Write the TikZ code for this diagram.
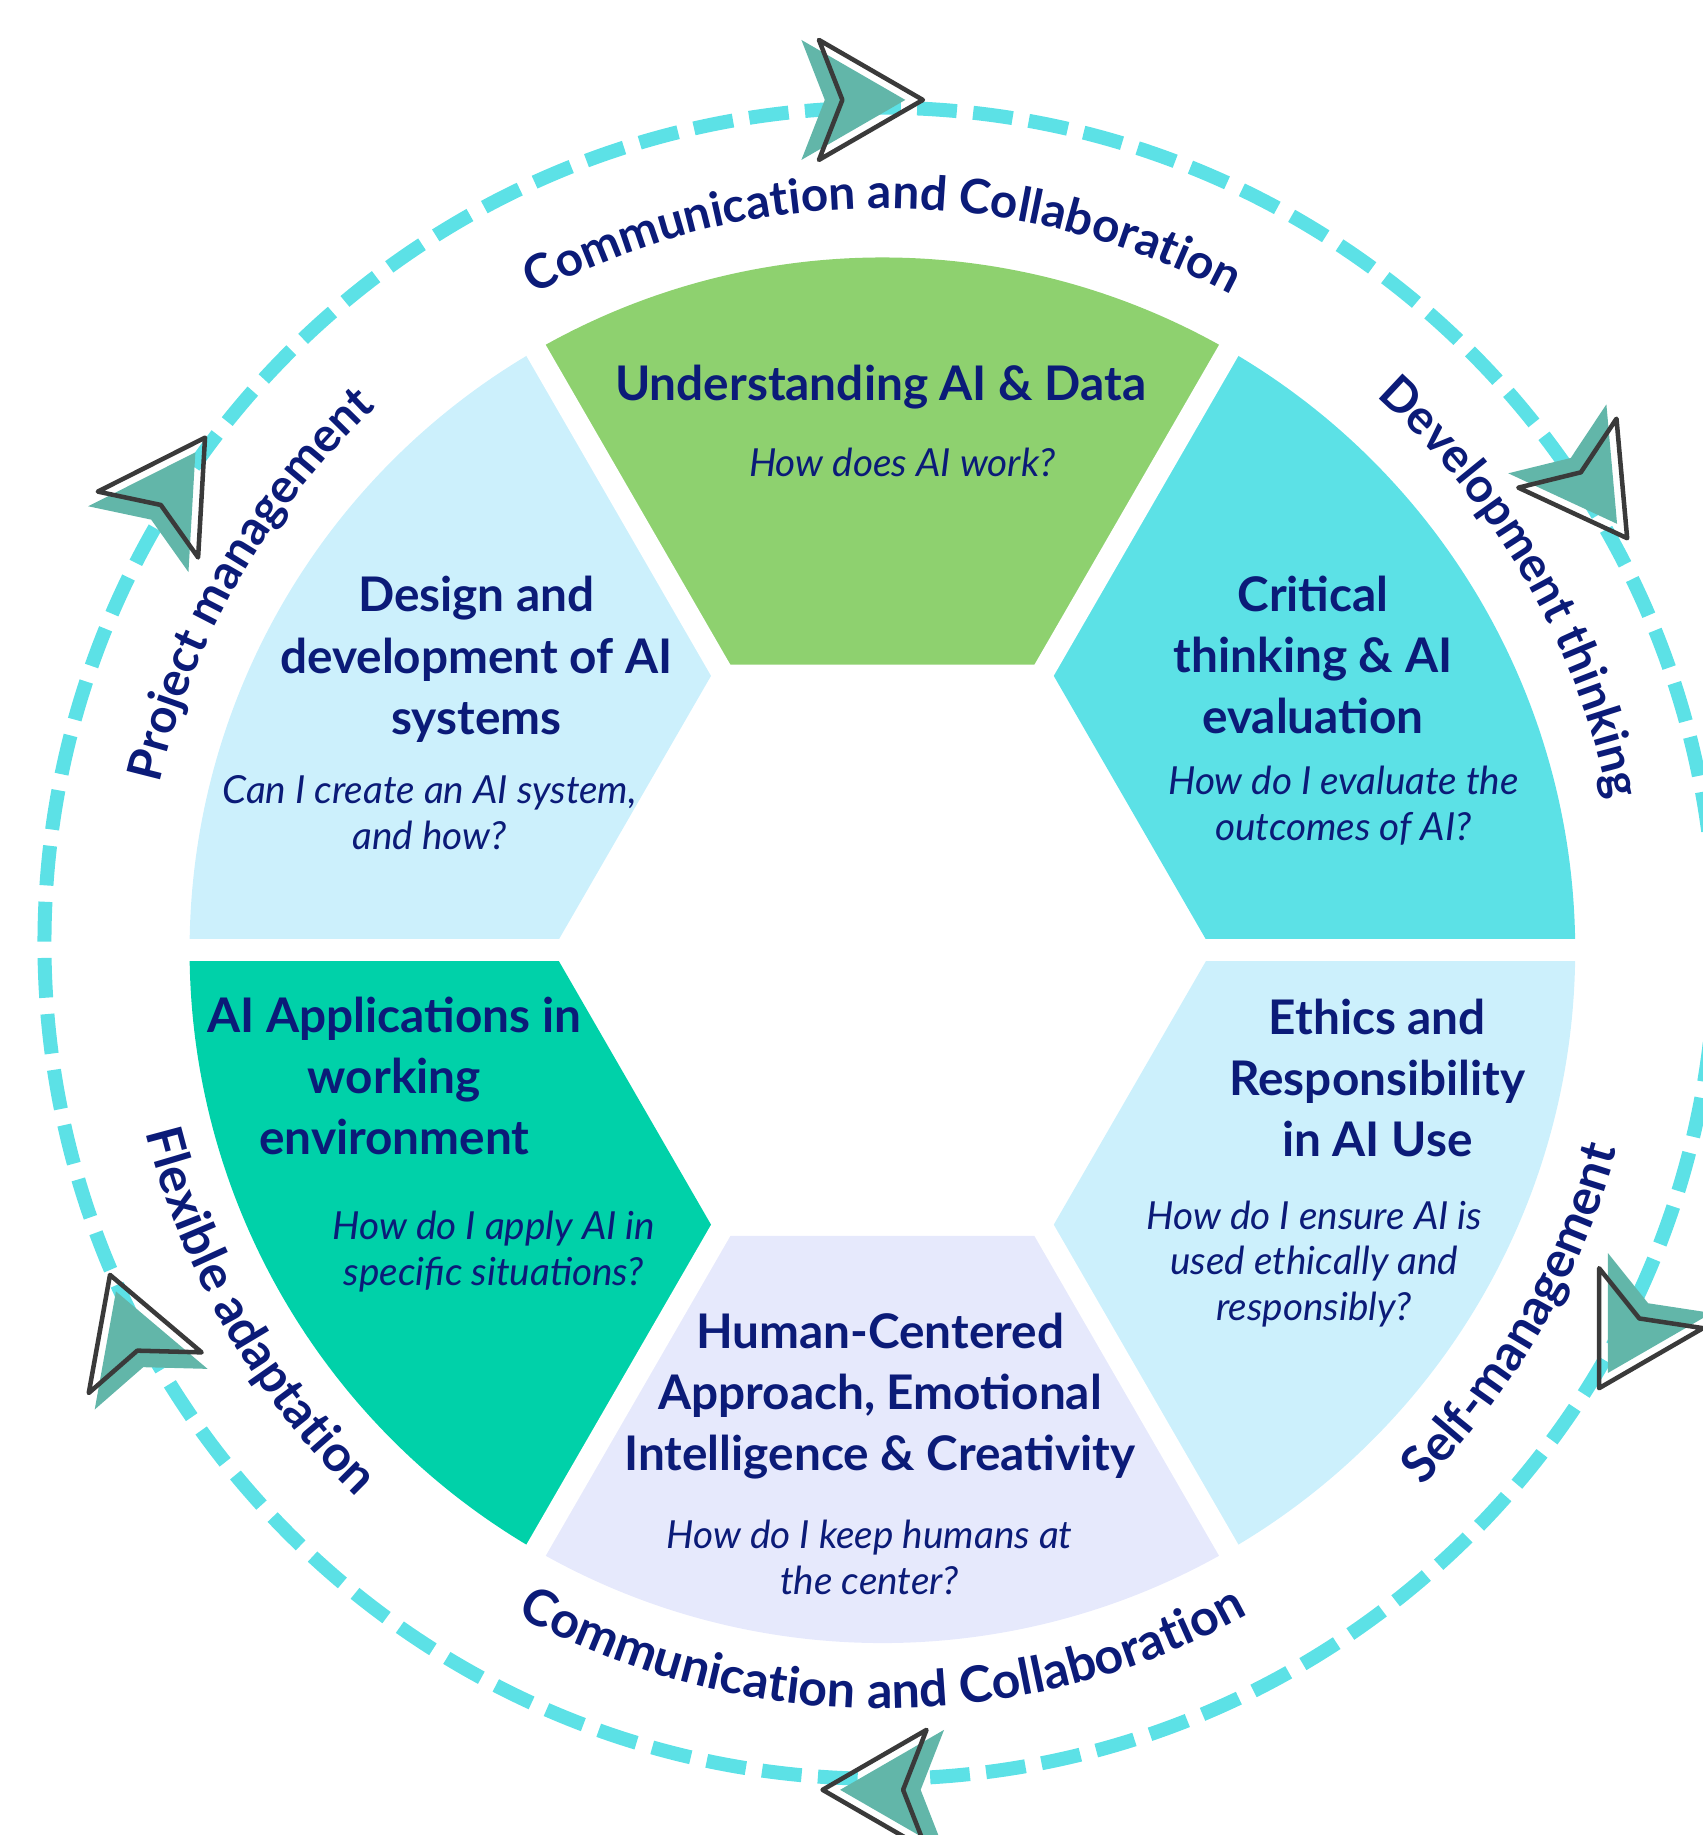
\documentclass[tikz,border=0pt]{standalone}
\usepackage{fontspec}
\setmainfont{Lato}
\usetikzlibrary{decorations.text}

\definecolor{navy}{HTML}{0B1B78}
\definecolor{ringcyan}{HTML}{5CE1E6}
\definecolor{segGreen}{HTML}{8ED16F}
\definecolor{segCyan}{HTML}{5CE1E6}
\definecolor{segLight}{HTML}{CCF0FC}
\definecolor{segLilac}{HTML}{E6E9FC}
\definecolor{segTeal}{HTML}{00D1A9}
\definecolor{planeTeal}{HTML}{62B6A9}
\definecolor{planeEdge}{HTML}{3A3A3A}

\tikzset{
  headtext/.style={text=navy, font=\fontsize{11.6}{14.9}\selectfont\bfseries, align=center},
  asktext/.style={text=navy, font=\fontsize{9.4}{11.1}\selectfont\itshape, align=center},
  ringlabel/.style={decorate, decoration={text along path, text align=center, text color=navy,
      text={|\fontsize{11.6}{14}\selectfont\bfseries|#1}}},
  ringlabelin/.style={decorate, decoration={text along path, text align=center, text color=navy,
      text={|\fontsize{12.2}{14}\selectfont\bfseries|#1}}},
  plane/.pic={
    \fill[planeTeal] (-0.15,0) -- (-1.038,0.5125) -- (-0.838,0) -- (-1.038,-0.5125) -- cycle;
    \draw[planeEdge, line width=1.1pt, line join=round]
      (0,0) -- (-0.888,0.5125) -- (-0.688,0) -- (-0.888,-0.5125) -- cycle;
  }
}

\begin{document}
\begin{tikzpicture}
	\useasboundingbox (-7.54,-7.56) rectangle (7.01,8.12);

	% Dashed ring
	\draw[ringcyan, line width=3.4pt, dash pattern=on 0.34cm off 0.14cm] (-0.02,0.06) circle[radius=7.14];

	% Plane arrows on the ring
	\foreach \x/\y/\r in {0.346/7.266/0, 6.364/3.521/-54.9, 6.124/-3.742/-120,
	                       -0.511/-7.174/180, -6.60/-2.774/109.8, -5.788/4.38/56.7}
		\pic[rotate=\r] at (\x,\y) {plane};

	% Six segments between hexagon and circle
	\foreach \a/\col in {90/segGreen, 30/segCyan, -30/segLight, -90/segLilac, -150/segTeal, 150/segLight}
		\fill[\col] (\a-30:2.818) -- (\a-30:5.92) arc[start angle=\a-30, end angle=\a+30, radius=5.92]
			-- (\a+30:2.818) -- cycle;

	% White gaps
	\foreach \a in {0,60,...,300}
		\draw[white, line width=5.4pt] (0,0) -- (\a:6.1);

	% Segment titles and questions
	\node[headtext] (data) at (-0.015,4.81) {Understanding AI \& Data};
	\node[asktext] (dataQ) at (0.17,4.17) {How does AI work?};

	\node[headtext] (design) at (-3.47,2.485) {Design and\\development of AI\\systems};
	\node[asktext] (designQ) at (-3.87,1.175) {Can I create an AI system,\\and how?};

	\node[headtext] (critical) at (3.68,2.525) {Critical\\thinking \& AI\\evaluation};
	\node[asktext] (criticalQ) at (3.94,1.235) {How do I evaluate the\\outcomes of AI?};

	\node[headtext] (apply) at (-4.17,-1.075) {AI Applications in\\working\\environment};
	\node[asktext] (applyQ) at (-3.32,-2.575) {How do I apply AI in\\specific situations?};

	\node[headtext] (ethics) at (4.23,-1.09) {Ethics and\\Responsibility\\in AI Use};
	\node[asktext] (ethicsQ) at (3.69,-2.68) {How do I ensure AI is\\used ethically and\\responsibly?};

	\node[headtext] (human) at (-0.02,-3.81) {Human-Centered\\Approach, Emotional\\Intelligence \& Creativity};
	\node[asktext] (humanQ) at (-0.11,-5.19) {How do I keep humans at\\the center?};

	% Skills around the ring
	\path[ringlabel={Communication and Collaboration}] (135:6.34) arc[start angle=135, end angle=45, radius=6.34];
	\path[ringlabel={Development thinking}] (75:6.34) arc[start angle=75, end angle=-15, radius=6.34];
	\path[ringlabel={Project management}] (195:6.34) arc[start angle=195, end angle=105, radius=6.34];
	\path[ringlabelin={Communication and Collaboration}] (225:6.48) arc[start angle=225, end angle=315, radius=6.48];
	\path[ringlabelin={Self-management}] (-75:6.5) arc[start angle=-75, end angle=15, radius=6.5];
	\path[ringlabelin={Flexible adaptation}] (165:6.48) arc[start angle=165, end angle=255, radius=6.48];
\end{tikzpicture}
\end{document}
